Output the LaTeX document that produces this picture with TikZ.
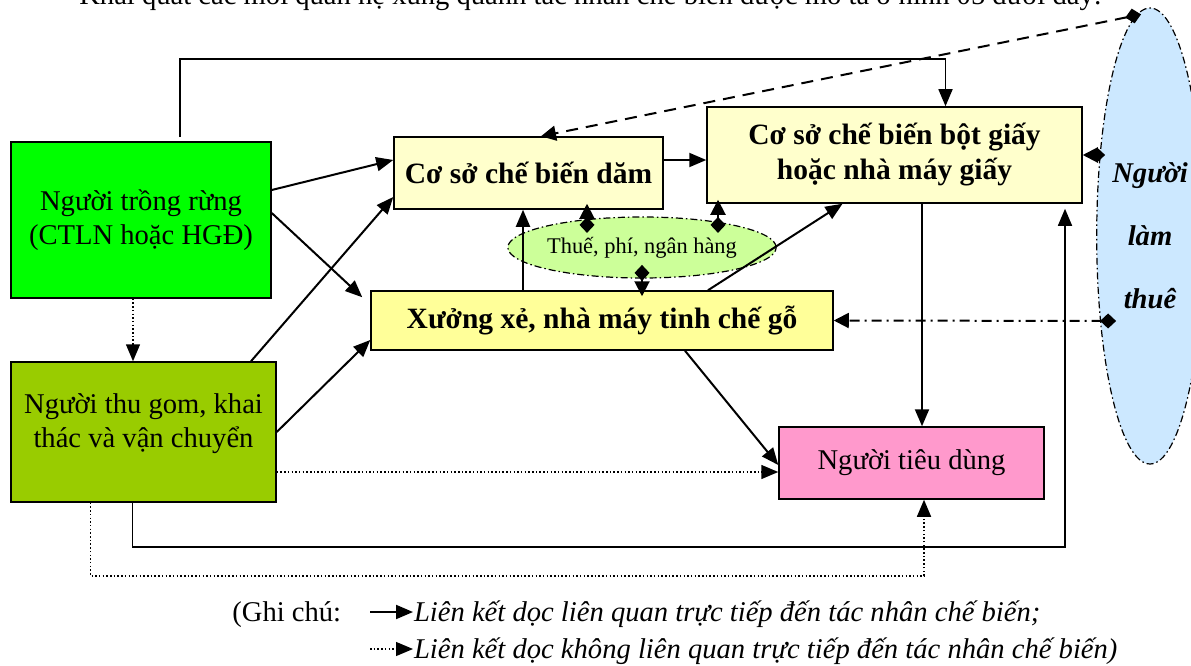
\documentclass[tikz,border=0pt]{standalone}
\usepackage{fontspec}
\setmainfont{Liberation Serif}
\usetikzlibrary{arrows.meta,shapes.geometric}

\definecolor{trongcol}{RGB}{0,255,0}
\definecolor{gomcol}{HTML}{99CC00}
\definecolor{camcol}{HTML}{FFFFCC}
\definecolor{xuongcol}{HTML}{FFFF99}
\definecolor{tieucol}{HTML}{FF99CC}
\definecolor{thuecol}{HTML}{CCFF99}
\definecolor{lamcol}{HTML}{CCE8FF}

\newcommand{\txtsz}{\fontsize{28.6}{34}\selectfont}
\newcommand{\boldsz}{\fontsize{29.5}{35}\selectfont\bfseries}

\begin{document}
\begin{tikzpicture}[x=1pt,y=-1pt,line width=2pt,
  >={Triangle[length=17pt,width=14pt]},
  box/.style={draw,line width=1.5pt,inner sep=0pt,align=center,font=\txtsz},
  title box/.style={box,font=\boldsz},
  dot line/.style={line width=1.5pt,dash pattern=on 1.5pt off 2.2pt},
  dia/.style={{Diamond[length=16pt,width=15pt]}-{Triangle[length=15pt,width=15pt]}},
  bubble/.style={ellipse,draw,line width=1.2pt,inner sep=0pt,
    dash pattern=on 7pt off 3pt on 1.5pt off 3pt}]

  \useasboundingbox (0,0) rectangle (1191,666);

  \node[anchor=base west,font=\txtsz] (tieude) at (75,5)
    {Khái quát các mối quan hệ xung quanh tác nhân chế biến được mô tả ở hình 05 dưới đây:};

  \node[bubble,fill=lamcol,minimum width=88pt,minimum height=456pt,
    font=\txtsz\bfseries\itshape,align=center] (lamthue) at (1150,236)
    {Người\\[29pt]làm\\[29pt]thuê};

  \node[box,fill=trongcol,minimum width=260pt,minimum height=156pt] (trong) at (141,220)
    {Người trồng rừng\\(CTLN hoặc HGĐ)};
  \node[box,fill=gomcol,minimum width=265pt,minimum height=140pt,
    label={[font=\txtsz,align=center,yshift=8pt]center:Người thu gom, khai\\thác và vận chuyển}]
    (thugom) at (143.5,432) {};
  \node[title box,fill=camcol,minimum width=269pt,minimum height=72pt] (dam) at (528.5,173)
    {Cơ sở chế biến dăm};
  \node[title box,fill=camcol,minimum width=375pt,minimum height=96pt] (botgiay) at (894.5,155)
    {Cơ sở chế biến bột giấy\\hoặc nhà máy giấy};
  \node[title box,fill=xuongcol,minimum width=462pt,minimum height=59pt] (xuong) at (602,320.5)
    {Xưởng xẻ, nhà máy tinh chế gỗ};
  \node[box,fill=tieucol,minimum width=265pt,minimum height=72pt] (tieudung) at (911.5,463)
    {Người tiêu dùng};
  \node[bubble,fill=thuecol,minimum width=228pt,minimum height=61pt,
    font=\fontsize{22.4}{26}\selectfont] (thue) at (642,247.5) {Thuế, phí, ngân hàng};

  % solid links
  \draw[->] ([yshift=30pt]trong.east) -- ([yshift=13pt]dam.west);
  \draw[->] ([yshift=7pt]trong.east) -- ([xshift=-8pt,yshift=-7pt]xuong.north west);
  \draw[->] ([xshift=107.5pt]thugom.north) -- ([yshift=-24pt]dam.west);
  \draw[->] (thugom.east) -- ([yshift=-19.5pt]xuong.west);
  \draw[->,line width=1.5pt] ([xshift=39pt,yshift=4pt]trong.north) -- ++(0,-78) -| ([xshift=51pt]botgiay.north);
  \draw[->,line width=1.5pt] ([xshift=-11pt]thugom.south) -- ++(0,44) -| ([xshift=170.5pt,yshift=-5pt]botgiay.south);
  \draw[->] ([yshift=13pt]dam.east) -- ([yshift=-5pt]botgiay.west);
  \draw[->] ([xshift=-79pt]xuong.north) -- ([xshift=-5.5pt]dam.south);
  \draw[->] ([xshift=106pt]xuong.north) -- ([xshift=-52pt]botgiay.south);
  \draw[->] ([xshift=83pt]xuong.south) -- ([yshift=-2pt]tieudung.west);
  \draw[->] ([xshift=27.5pt]botgiay.south) -- ([xshift=10.5pt]tieudung.north);

  % dotted links
  \draw[dot line,->] ([xshift=-8pt]trong.south) -- ([xshift=-10.5pt]thugom.north);
  \draw[dot line,->] ([yshift=-40pt]thugom.east) -- ([yshift=-9pt]tieudung.west);
  \draw[dot line,->] ([xshift=-53pt]thugom.south) -- ++(0,73) -| ([xshift=12.5pt]tieudung.south);

  % thue, lam thue
  \draw[dia] ([xshift=-55pt,yshift=-16.5pt]thue.north) -- ([xshift=58.5pt,yshift=6pt]dam.south);
  \draw[dia] ([xshift=76pt,yshift=-16.5pt]thue.north) -- ([xshift=-176.5pt,yshift=4pt]botgiay.south);
  \draw[dia] ([yshift=-48.5pt]thue.north) -- ([xshift=40pt,yshift=-6pt]xuong.north);
  \draw[dia,dash pattern=on 12pt off 8pt] ([xshift=-9pt,yshift=-7pt]lamthue.north) -- ([xshift=12.5pt]dam.north);
  \draw[dia] ([xshift=9pt,yshift=81pt]lamthue.west) -- (botgiay.east);
  \draw[dia,dash pattern=on 10pt off 5pt on 2pt off 5pt] ([xshift=20pt,yshift=-85pt]lamthue.west) -- (xuong.east);

  % ghi chu
  \node[anchor=base west,font=\txtsz] (ghichu) at (228,621) {(Ghi chú:};
  \node[anchor=base west,font=\txtsz\itshape,inner sep=0pt] (lk1) at (413,621)
    {Liên kết dọc liên quan trực tiếp đến tác nhân chế biến;};
  \node[anchor=base west,font=\txtsz\itshape,inner sep=0pt] (lk2) at (413,658)
    {Liên kết dọc không liên quan trực tiếp đến tác nhân chế biến)};
  \coordinate (lk1s) at (370,612);
  \coordinate (lk2s) at (370,649);
  \draw[->] (lk1s) -- (lk1s -| lk1.west);
  \draw[dot line,line width=1.2pt,->] (lk2s) -- (lk2s -| lk2.west);
\end{tikzpicture}
\end{document}
